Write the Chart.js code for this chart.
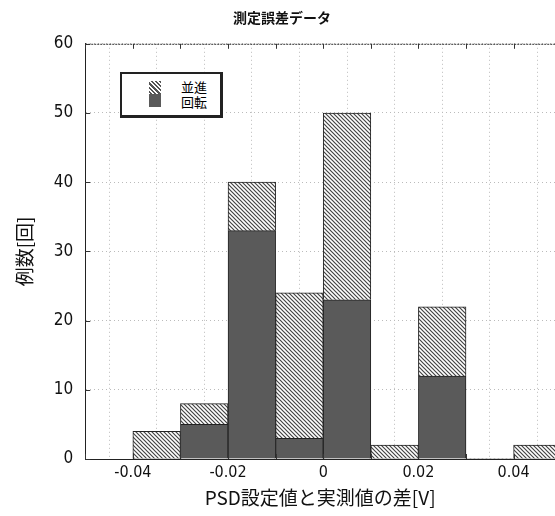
<!DOCTYPE html>
<html lang="ja">
<head>
<meta charset="UTF-8">
<title>測定誤差データ</title>
<script src="https://cdn.jsdelivr.net/npm/chart.js"></script>
<style>
    body { margin: 0; background: #fff; }
    #wrap { position: relative; width: 555px; height: 516px; }
    .legend { position: absolute; left: 120px; top: 72px; width: 98px; height: 41px; border: 2px solid #222; border-right-width: 3px; border-bottom-width: 3px; background: #fff; font-family: "Noto Sans CJK JP", sans-serif; font-size: 13px; line-height: 15px; }
    .sw { position: absolute; left: 27px; width: 12px; height: 13px; }
    .sw1 { top: 7px; background: repeating-linear-gradient(45deg, #fff 0 1px, #555 1px 2.5px, #fff 2.5px 3px); }
    .sw2 { top: 20px; background: #5a5a5a; }
    .lb { position: absolute; left: 59px; }
</style>
</head>
<body>
<div id="wrap">
    <canvas id="chart" width="555" height="516"></canvas>
    <div class="legend">
        <div class="sw sw1"></div><div class="sw sw2"></div>
        <div class="lb" style="top:5px">並進</div>
        <div class="lb" style="top:20px">回転</div>
    </div>
</div>
<script>
    // histogram bins (width 0.01 V)
    const binCenters = [-0.035, -0.025, -0.015, -0.005, 0.005, 0.015, 0.025, 0.035, 0.045];
    const rotation = [0, 5, 33, 3, 23, 0, 12, 0, 0];      // 回転
    const translation = [4, 3, 7, 21, 27, 2, 10, 0, 2];   // 並進
    const xLabelTicks = [-0.04, -0.02, 0, 0.02, 0.04];

    const font = "'Noto Sans CJK JP', sans-serif";
    const numFont = "'Liberation Sans Narrow', 'DejaVu Sans Condensed', sans-serif";
    const ctx = document.getElementById('chart').getContext('2d');

    // diagonal hatch pattern
    function hatch() {
        const c = document.createElement('canvas');
        c.width = 4; c.height = 4;
        const g = c.getContext('2d');
        g.fillStyle = '#fff'; g.fillRect(0, 0, 4, 4);
        g.strokeStyle = '#444'; g.lineWidth = 1.2;
        g.beginPath();
        g.moveTo(0, 0); g.lineTo(4, 4);
        g.moveTo(-2, 2); g.lineTo(2, 6);
        g.moveTo(2, -2); g.lineTo(6, 2);
        g.stroke();
        return ctx.createPattern(c, 'repeat');
    }

    // ticks drawn inside the frame, plus dashed top edge
    const innerTicks = {
        id: 'innerTicks',
        afterDraw(chart) {
            const { ctx, chartArea: a, scales: { x, y } } = chart;
            ctx.save();
            ctx.strokeStyle = '#333'; ctx.lineWidth = 1;
            ctx.beginPath();
            for (let v = 0; v <= 60; v += 10) {
                const py = Math.round(y.getPixelForValue(v)) + 0.5;
                ctx.moveTo(a.left, py); ctx.lineTo(a.left + 5, py);
            }
            for (let i = -5; i <= 5; i++) {
                const px = Math.round(x.getPixelForValue(i / 100)) + 0.5;
                ctx.moveTo(px, a.bottom); ctx.lineTo(px, a.bottom - 5);
                ctx.moveTo(px, a.top); ctx.lineTo(px, a.top + 5);
            }
            ctx.stroke();
            ctx.setLineDash([2, 1]);
            ctx.beginPath();
            ctx.moveTo(a.left, a.top + 0.5); ctx.lineTo(a.right, a.top + 0.5);
            ctx.stroke();
            ctx.restore();
        }
    };

    const toPoints = arr => arr.map((v, i) => ({ x: binCenters[i], y: v }));

    new Chart(ctx, {
        type: 'bar',
        data: {
            datasets: [
                { label: '回転', data: toPoints(rotation), backgroundColor: '#5a5a5a',
                  borderColor: '#222', borderWidth: c => (c.raw && c.raw.y ? 1 : 0) },
                { label: '並進', data: toPoints(translation), backgroundColor: hatch(),
                  borderColor: '#222', borderWidth: c => (c.raw && c.raw.y ? 1 : 0) }
            ]
        },
        options: {
            responsive: false,
            animation: false,
            barPercentage: 1,
            categoryPercentage: 1,
            layout: { padding: { left: 9, right: 0, top: 0, bottom: 3 } },
            plugins: {
                legend: { display: false },
                tooltip: { enabled: false },
                title: { display: true, text: '測定誤差データ', color: '#111',
                         font: { family: font, size: 14, weight: 'bold' }, padding: { top: 9, bottom: 18 } }
            },
            scales: {
                x: {
                    type: 'linear', stacked: true, offset: false, min: -0.05, max: 0.0487,
                    ticks: { stepSize: 0.01, autoSkip: false, includeBounds: false, color: '#111', padding: 4,
                             font: { family: numFont, size: 16 },
                             callback: v => {
                                 const r = Math.round(v * 100) / 100;
                                 return xLabelTicks.some(t => Math.abs(t - r) < 1e-9) ? (r === 0 ? '0' : r.toFixed(2)) : '';
                             } },
                    grid: { color: '#bbb', drawTicks: false },
                    border: { display: true, color: '#222', width: 1, dash: [1, 3] },
                    title: { display: true, text: 'PSD設定値と実測値の差[V]', color: '#111',
                             font: { family: font, size: 19 }, padding: { top: 0 } }
                },
                y: {
                    stacked: true, min: 0, max: 60,
                    ticks: { stepSize: 10, color: '#111', padding: 12, font: { family: numFont, size: 17 } },
                    grid: { color: '#bbb', drawTicks: false },
                    border: { display: true, color: '#222', width: 1, dash: [1, 3] },
                    title: { display: true, text: '例数[回]', color: '#111',
                             font: { family: font, size: 19 }, padding: { bottom: 6 } }
                }
            }
        },
        plugins: [innerTicks]
    });
</script>
</body>
</html>
